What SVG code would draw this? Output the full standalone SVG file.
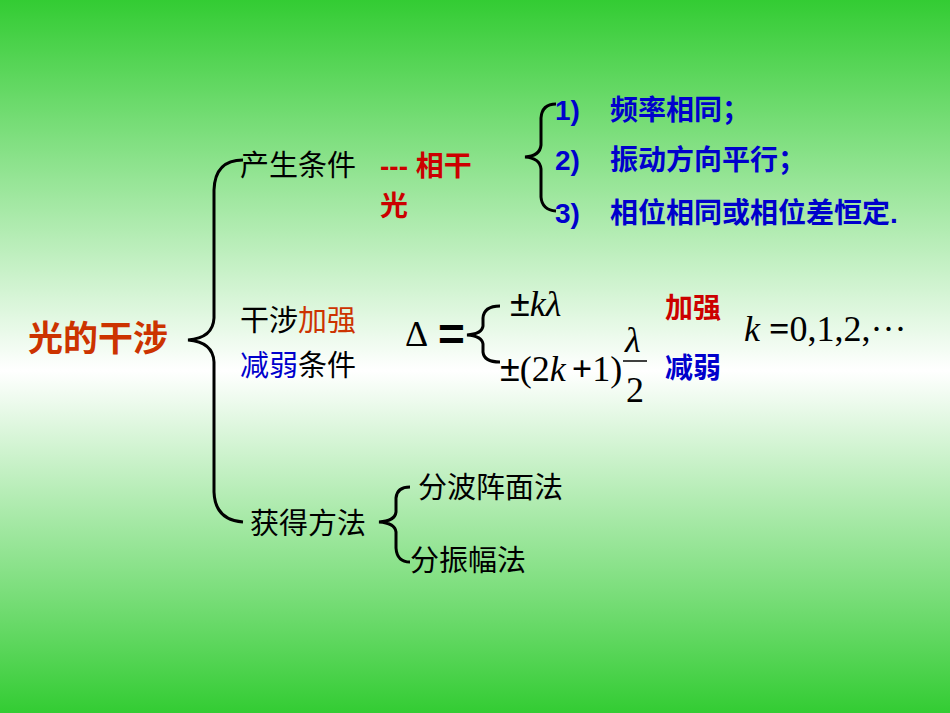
<svg xmlns="http://www.w3.org/2000/svg" width="950" height="713" viewBox="0 0 950 713">
<defs>
<linearGradient id="bg" x1="0" y1="0" x2="0" y2="1">
<stop offset="0" stop-color="#33cc33"/>
<stop offset="0.52" stop-color="#ffffff"/>
<stop offset="1" stop-color="#33cc33"/>
</linearGradient>
</defs>
<style>
.k{font-family:"Noto Sans CJK SC","Liberation Sans",sans-serif;font-size:29px;fill:#000}
.b{font-family:"Liberation Sans","Noto Sans CJK SC",sans-serif;font-size:28px;font-weight:bold;fill:#0000cc}
.r{font-family:"Liberation Sans","Noto Sans CJK SC",sans-serif;font-size:28px;font-weight:bold;fill:#cc0000}
.m{font-family:"Liberation Serif",serif;font-size:36px;fill:#000}
.br{fill:none;stroke:#000;stroke-width:3}
</style>
<rect width="950" height="713" fill="url(#bg)"/>
<g id="connectors">
<path class="br" d="M243,160 Q215,160 214,190 L214,318 Q213,338 188,340 Q213,342 214,362 L214,492 Q215,520 243,522"/>
<path class="br" d="M556,104 Q542,104 541,118 L541,145 Q540,156 525,157 Q540,158 541,169 L541,197 Q542,210 556,211"/>
<path class="br" d="M500,306 Q484,306 483,318 L483,326 Q482,334 467,335 Q482,336 483,344 L483,352 Q484,362 500,362"/>
<path class="br" d="M410,487 Q397,487 396,498 L396,512 Q395,521 379,522 Q395,523 396,532 L396,548 Q397,562 410,562"/>
</g>
<g id="root"><text x="28" y="351" style="font-family:'Noto Sans CJK SC',sans-serif;font-size:35px;font-weight:bold;fill:#cc3300">光的干涉</text></g>
<g id="cond">
<text class="k" x="240" y="176">产生条件</text>
<text class="r" x="380" y="176">--- 相干</text>
<text class="r" x="380" y="216">光</text>
</g>
<g id="c1"><text class="b" x="555" y="120">1)</text><text class="b" x="610" y="120">频率相同；</text></g>
<g id="c2"><text class="b" x="555" y="170">2)</text><text class="b" x="610" y="170">振动方向平行；</text></g>
<g id="c3"><text class="b" x="555" y="223">3)</text><text class="b" x="610" y="223">相位相同或相位差恒定.</text></g>
<g id="inter">
<text class="k" x="240" y="331">干涉<tspan fill="#cc3300">加强</tspan></text>
<text class="k" x="240" y="376"><tspan fill="#0000cc">减弱</tspan>条件</text>
</g>
<g id="formula">
<text class="m" x="405" y="346" font-size="36">Δ</text>
<text x="438" y="350" style="font-family:'Liberation Sans',sans-serif;font-size:46px;font-weight:bold">=</text>
<text class="m" x="510" y="316"><tspan font-family="Liberation Sans">±</tspan><tspan font-style="italic">kλ</tspan></text>
<text class="m" x="500" y="381"><tspan font-family="Liberation Sans">±</tspan>(2<tspan font-style="italic">k</tspan><tspan font-weight="bold" dx="6">+</tspan>1)</text>
<text class="m" x="625" y="352" font-style="italic">λ</text>
<line x1="623" y1="361" x2="647" y2="361" stroke="#000" stroke-width="1.5"/>
<text class="m" x="626" y="402">2</text>
<text class="r" x="665" y="318">加强</text>
<text class="b" x="665" y="378">减弱</text>
<text class="m" x="744" y="341" font-size="30"><tspan font-style="italic">k</tspan> <tspan font-weight="bold">=</tspan>0,1,2,···</text>
</g>
<g id="method">
<text class="k" x="250" y="534">获得方法</text>
<text class="k" x="418" y="498">分波阵面法</text>
<text class="k" x="410" y="571">分振幅法</text>
</g>
</svg>
